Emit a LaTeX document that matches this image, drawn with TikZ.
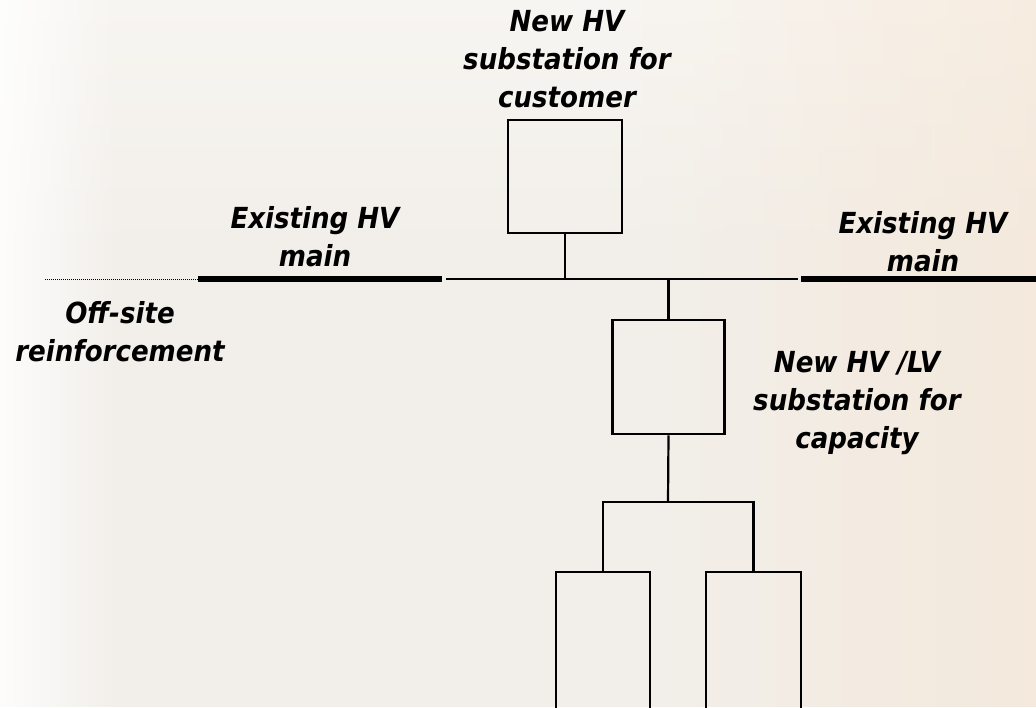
\documentclass[tikz,border=0pt]{standalone}
\usepackage{fontspec}
\setmainfont{DejaVu Sans Condensed}
\usetikzlibrary{fadings}
\definecolor{bg}{HTML}{F2EFEA}
\definecolor{bgtop}{HTML}{F7F5F1}
\definecolor{peach}{HTML}{F7E2CC}
\tikzfading[name=toright, left color=transparent!100, right color=transparent!0]
\tikzfading[name=toleft, left color=transparent!0, right color=transparent!100]
\tikzset{
  lbl/.style={font=\bfseries\itshape\fontsize{29}{38}\selectfont, align=center, inner sep=0pt, anchor=north},
  box/.style={draw, line width=2.6pt, inner sep=0pt, fill=none},
  wire/.style={line width=2.2pt},
  mainline/.style={line width=6pt},
  offsite/.style={line width=1pt, dash pattern=on 1pt off 1pt}
}
\begin{document}
\begin{tikzpicture}[x=1pt,y=-1pt]
\useasboundingbox (0,0) rectangle (1036,707);
\clip (0,0) rectangle (1036,707);
% background
\fill[bg] (0,0) rectangle (1036,707);
\shade[top color=bgtop, bottom color=bg] (0,0) rectangle (1036,250);
\fill[white, opacity=0.85, path fading=toleft] (0,0) rectangle (120,707);
\fill[peach, opacity=0.45, path fading=toright] (640,0) rectangle (1036,707);

% connection points
\coordinate (dotS) at (45,279);
\coordinate (mL1) at (198,279);
\coordinate (mL2) at (442,279);
\coordinate (busL) at (446,279);
\coordinate (busR) at (798,279);
\coordinate (mR1) at (801,279);
\coordinate (mR2) at (1040,279);
\coordinate (fork) at (668,502);

% boxes
\node[box, minimum width=114pt, minimum height=113pt] (cust) at (565,176.5) {};
\node[box, minimum width=112pt, minimum height=114pt] (cap) at (668.5,377) {};
\node[box, minimum width=94pt, minimum height=228pt] (lv1) at (603,686) {};
\node[box, minimum width=95pt, minimum height=228pt] (lv2) at (753.5,686) {};

% lines
\draw[offsite] (dotS) -- (mL1);
\draw[mainline] (mL1) -- (mL2);
\draw[wire] (busL) -- (busR);
\draw[mainline] (mR1) -- (mR2);
\draw[wire] (cust.south) -- (cust.south |- busL);
\draw[wire] (cap.north) -- (cap.north |- busL);
\draw[wire] (cap.south) -- (fork);
\draw[wire] (lv1.north) |- (fork) -| (lv2.north);

% labels
\node[lbl] (tcust) at (567,10) {New HV\\substation for\\customer};
\node[lbl] (tmainL) at (315,206) {Existing HV\\main};
\node[lbl] (tmainR) at (923,211) {Existing HV\\main};
\node[lbl] (toff) at (120,301) {Off-site\\reinforcement};
\node[lbl] (tcap) at (857,351) {New HV /LV\\substation for\\capacity};
\end{tikzpicture}
\end{document}
